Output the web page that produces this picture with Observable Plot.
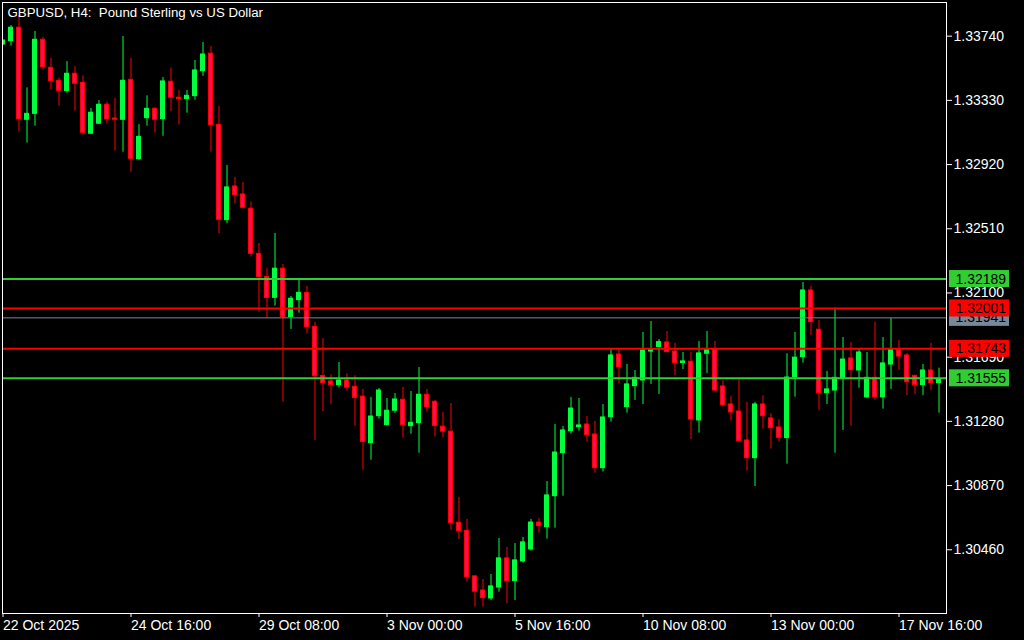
<!DOCTYPE html>
<html>
<head>
<meta charset="utf-8">
<script src="https://cdn.jsdelivr.net/npm/d3@7"></script>
<script src="https://cdn.jsdelivr.net/npm/@observablehq/plot@0.6"></script>
<style>
  html, body { margin: 0; padding: 0; background: #000; }
  #chart { width: 1024px; height: 640px; overflow: hidden; }
</style>
</head>
<body>
<div id="chart"></div>
<script>
// GBPUSD H4 candles, 22 Oct 2025 00:00 .. 18 Nov 2025 12:00 (one bar per index)
const open = [
  1.33687, 1.33708, 1.33794, 1.33206, 1.33244, 1.33717, 1.33538, 1.33455, 1.33389, 1.33500,
  1.33442, 1.33117, 1.33181, 1.33302, 1.33214, 1.33206, 1.33461, 1.32954, 1.33216, 1.33276,
  1.33210, 1.33449, 1.33347, 1.33338, 1.33357, 1.33516, 1.33628, 1.33174, 1.32565, 1.32780,
  1.32729, 1.32638, 1.32350, 1.32202, 1.32069, 1.32255, 1.31946, 1.32054, 1.32101, 1.31884,
  1.31570, 1.31535, 1.31511, 1.31541, 1.31501, 1.31438, 1.31141, 1.31313, 1.31256, 1.31348,
  1.31418, 1.31249, 1.31269, 1.31450, 1.31405, 1.31246, 1.31214, 1.30633, 1.30581, 1.30290,
  1.30200, 1.30149, 1.30219, 1.30405, 1.30260, 1.30385, 1.30462, 1.30634, 1.30604, 1.30802,
  1.31077, 1.31217, 1.31243, 1.31260, 1.31196, 1.30981, 1.31307, 1.31707, 1.31371, 1.31505,
  1.31541, 1.31726, 1.31754, 1.31784, 1.31726, 1.31652, 1.31661, 1.31286, 1.31712, 1.31741,
  1.31503, 1.31388, 1.31343, 1.31158, 1.31045, 1.31388, 1.31299, 1.31241, 1.31173, 1.31562,
  1.31690, 1.32116, 1.31865, 1.31460, 1.31477, 1.31550, 1.31682, 1.31605, 1.31433, 1.31558,
  1.31433, 1.31643, 1.31733, 1.31701, 1.31571, 1.31511, 1.31605, 1.31524
];
const high = [
  1.33715, 1.33808, 1.33872, 1.33410, 1.33770, 1.33732, 1.33598, 1.33474, 1.33578, 1.33546,
  1.33487, 1.33278, 1.33329, 1.33317, 1.33342, 1.33738, 1.33598, 1.33174, 1.33359, 1.33283,
  1.33476, 1.33536, 1.33393, 1.33393, 1.33585, 1.33700, 1.33674, 1.33291, 1.32914, 1.32838,
  1.32806, 1.32682, 1.32416, 1.32256, 1.32480, 1.32282, 1.32078, 1.32186, 1.32142, 1.31912,
  1.31808, 1.31578, 1.31656, 1.31584, 1.31571, 1.31484, 1.31433, 1.31490, 1.31426, 1.31458,
  1.31497, 1.31471, 1.31624, 1.31484, 1.31414, 1.31337, 1.31394, 1.30794, 1.30654, 1.30292,
  1.30270, 1.30302, 1.30532, 1.30475, 1.30500, 1.30539, 1.30654, 1.30660, 1.30896, 1.31260,
  1.31247, 1.31433, 1.31426, 1.31311, 1.31279, 1.31388, 1.31739, 1.31739, 1.31643, 1.31605,
  1.31848, 1.31918, 1.31803, 1.31854, 1.31778, 1.31720, 1.31720, 1.31790, 1.31854, 1.31790,
  1.31541, 1.31439, 1.31556, 1.31401, 1.31401, 1.31444, 1.31329, 1.31290, 1.31712, 1.31848,
  1.32167, 1.32142, 1.31924, 1.31599, 1.32003, 1.31816, 1.31784, 1.31739, 1.31720, 1.31912,
  1.31816, 1.31937, 1.31797, 1.31714, 1.31573, 1.31643, 1.31778, 1.31620
];
const low = [
  1.33680, 1.33676, 1.33127, 1.33057, 1.33165, 1.33523, 1.33395, 1.33293, 1.33376, 1.33261,
  1.33108, 1.33112, 1.33176, 1.33178, 1.33006, 1.32999, 1.32871, 1.32948, 1.33165, 1.33120,
  1.33101, 1.33257, 1.33172, 1.33248, 1.33331, 1.33484, 1.32999, 1.32478, 1.32542, 1.32667,
  1.32635, 1.32329, 1.31977, 1.31940, 1.32016, 1.31403, 1.31867, 1.31971, 1.31838, 1.31158,
  1.31343, 1.31388, 1.31493, 1.31473, 1.31249, 1.30967, 1.31032, 1.31294, 1.31250, 1.31332,
  1.31173, 1.31198, 1.31077, 1.31339, 1.31179, 1.31173, 1.30583, 1.30526, 1.30253, 1.30094,
  1.30094, 1.30136, 1.30189, 1.30115, 1.30136, 1.30375, 1.30451, 1.30566, 1.30528, 1.30598,
  1.30802, 1.31198, 1.31217, 1.31147, 1.30949, 1.30956, 1.31275, 1.31520, 1.31332, 1.31414,
  1.31388, 1.31516, 1.31452, 1.31720, 1.31573, 1.31611, 1.31164, 1.31205, 1.31586, 1.31471,
  1.31371, 1.31281, 1.31147, 1.30962, 1.30864, 1.31230, 1.31103, 1.31147, 1.31007, 1.31435,
  1.31652, 1.31829, 1.31350, 1.31388, 1.31077, 1.31222, 1.31249, 1.31492, 1.31428, 1.31415,
  1.31358, 1.31484, 1.31605, 1.31445, 1.31452, 1.31445, 1.31477, 1.31332
];
const close = [
  1.33712, 1.33794, 1.33210, 1.33244, 1.33717, 1.33542, 1.33453, 1.33391, 1.33500, 1.33436,
  1.33123, 1.33251, 1.33302, 1.33210, 1.33206, 1.33455, 1.32957, 1.33097, 1.33276, 1.33206,
  1.33451, 1.33347, 1.33338, 1.33359, 1.33521, 1.33623, 1.33172, 1.32567, 1.32774, 1.32725,
  1.32644, 1.32350, 1.32201, 1.32068, 1.32255, 1.31946, 1.32063, 1.32101, 1.31883, 1.31568,
  1.31525, 1.31511, 1.31541, 1.31495, 1.31430, 1.31149, 1.31311, 1.31477, 1.31348, 1.31420,
  1.31256, 1.31271, 1.31450, 1.31371, 1.31251, 1.31214, 1.30630, 1.30579, 1.30285, 1.30192,
  1.30151, 1.30226, 1.30405, 1.30260, 1.30392, 1.30507, 1.30634, 1.30611, 1.30807, 1.31081,
  1.31222, 1.31362, 1.31254, 1.31192, 1.30981, 1.31305, 1.31701, 1.31626, 1.31516, 1.31558,
  1.31733, 1.31741, 1.31786, 1.31722, 1.31652, 1.31663, 1.31292, 1.31714, 1.31741, 1.31477,
  1.31382, 1.31337, 1.31154, 1.31045, 1.31388, 1.31313, 1.31237, 1.31175, 1.31560, 1.31687,
  1.32116, 1.31914, 1.31460, 1.31484, 1.31558, 1.31675, 1.31607, 1.31720, 1.31558, 1.31433,
  1.31650, 1.31739, 1.31694, 1.31530, 1.31511, 1.31605, 1.31524, 1.31548
];

// time axis: bar index of each labelled tick and its text
const timeTicks = [0, 16, 32, 48, 64, 80, 96, 112];
const timeLabels = ["22 Oct 2025", "24 Oct 16:00", "29 Oct 08:00", "3 Nov 00:00",
                    "5 Nov 16:00", "10 Nov 08:00", "13 Nov 00:00", "17 Nov 16:00"];

// price scale ticks
const priceTicks = [1.30460, 1.30870, 1.31280, 1.31690, 1.32100, 1.32510, 1.32920, 1.33330, 1.33740];

// horizontal levels (gray drawn first so the red tag sits above it)
const levelValues = [1.32189, 1.31941, 1.32001, 1.31743, 1.31555];
const levelKinds  = ["support", "bid", "resistance", "resistance", "support"];

const title = "GBPUSD, H4:\u00a0 Pound Sterling vs US Dollar";

// ---- styling ----
const BULL = "#00ff3c";
const BEAR_FILL = "#ff0a5c";
const BEAR_LINE = "#ff0000";
const LEVEL_COLOR = {support: "#32cd32", resistance: "#ff0000", bid: "#778899"};
const LEVEL_WIDTH = {support: 2, resistance: 2, bid: 1};
const FONT = "'Liberation Sans', Arial, sans-serif";

const bars = open.map((o, i) => ({i, open: o, high: high[i], low: low[i], close: close[i], up: close[i] >= o}));
const levels = levelValues.map((v, k) => ({value: v, kind: levelKinds[k]}));

// 8 px per bar: first bar sits half a pixel inside the frame, one bar of space on the right
const xDomain = [-0.0625, bars.length - 0.0625];
const xEdge = xDomain[1];
const yDomain = [1.30053, 1.33955];

const fmt = d3.format(".5f");

const levelMarks = levels.flatMap(d => [
  Plot.ruleY([d], {y: "value", stroke: LEVEL_COLOR[d.kind], strokeWidth: LEVEL_WIDTH[d.kind]})
]);
const tagMarks = levels.flatMap(d => [
  Plot.rect([d], {x1: xEdge, x2: xEdge, y1: "value", y2: "value",
    insetLeft: 3, insetRight: -63, insetTop: -8.5, insetBottom: -8.5,
    fill: LEVEL_COLOR[d.kind]}),
  Plot.text([d], {x: xEdge, y: "value", text: v => fmt(v.value), dx: 9, textAnchor: "start",
    fill: "#000", fontSize: 14})
]);

const chart = Plot.plot({
  width: 1024,
  height: 640,
  marginTop: 2,
  marginBottom: 27,
  marginLeft: 2,
  marginRight: 78,
  style: {background: "#000", color: "#fff", fontFamily: FONT, fontSize: "14px"},
  x: {domain: xDomain, label: null},
  y: {domain: yDomain, label: null},
  color: {type: "identity"},
  marks: [
    // wicks
    Plot.ruleX(bars, {x: "i", y1: "low", y2: "high",
      stroke: d => d.up ? BULL : BEAR_LINE, strokeWidth: 1, clip: true}),
    // bodies
    Plot.rect(bars, {x1: d => d.i - 0.25, x2: d => d.i + 0.25, y1: "open", y2: "close",
      fill: d => d.up ? BULL : BEAR_FILL, stroke: d => d.up ? BULL : BEAR_LINE,
      strokeWidth: 1, inset: 0, clip: true}),
    ...levelMarks,
    Plot.frame({stroke: "#fff"}),
    Plot.axisX(timeTicks, {anchor: "bottom", tickSize: 4, tickPadding: 3,
      tickFormat: d => timeLabels[timeTicks.indexOf(d)], textAnchor: "start", fontSize: 14, label: null}),
    Plot.axisY(priceTicks, {anchor: "right", tickSize: 5, tickPadding: 2,
      tickFormat: fmt, fontSize: 14, label: null}),
    ...tagMarks,
    Plot.text([title], {frameAnchor: "top-left", text: d => d, dx: 5, dy: 5,
      lineAnchor: "top", textAnchor: "start", fill: "#fff", fontSize: 13.25})
  ]
});

document.getElementById("chart").appendChild(chart);
</script>
</body>
</html>
